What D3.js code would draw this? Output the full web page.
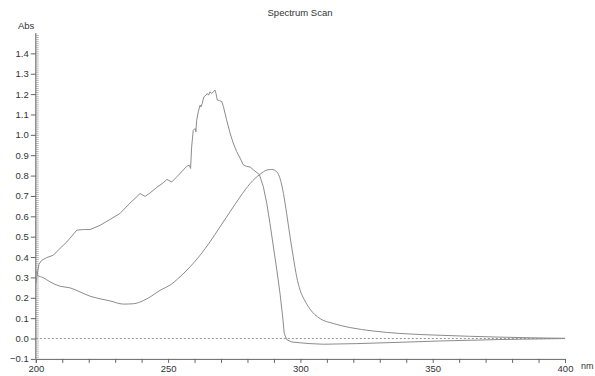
<!DOCTYPE html>
<html>
<head>
<meta charset="utf-8">
<script src="https://cdn.jsdelivr.net/npm/d3@7"></script>
<style>
  body { margin: 0; background: #fff; }
  text { font-family: "Liberation Sans", Arial, sans-serif; fill: #333; }
</style>
</head>
<body>
<script>
// scan 1 (jagged curve)
var scan1Nm = [200.0, 200.7, 201.2, 202.2, 204.1, 206.6, 208.5, 211.7, 215.5, 218.0, 220.5, 224.3, 228.0, 231.8,
    235.6, 237.5, 239.4, 241.3, 243.2, 245.7, 248.2, 249.5, 251.4, 253.3, 255.7, 257.0, 258.0, 258.5,
    258.9, 259.5, 260.2, 260.5, 260.8, 261.4, 262.1, 262.4, 262.9, 263.5, 264.3, 264.8, 265.3, 265.8,
    266.5, 267.1, 267.7, 268.1, 268.6, 269.4, 270.3, 270.9, 272.1, 273.4, 274.6, 275.9, 277.2, 278.4,
    279.7, 281.0, 282.2, 284.5, 286.0, 287.3, 288.5, 289.8, 291.1, 292.3, 293.3, 293.9, 294.8, 296.7,
    299.9, 303.6, 308.7, 321.3, 333.9, 352.8, 375.0, 400.0];
var scan1Abs = [0.27, 0.33, 0.365, 0.384, 0.397, 0.409, 0.434, 0.474, 0.532, 0.535, 0.535, 0.556, 0.584, 0.614,
    0.665, 0.688, 0.712, 0.698, 0.715, 0.742, 0.765, 0.781, 0.769, 0.794, 0.827, 0.845, 0.851, 0.835,
    0.941, 1.022, 1.031, 1.015, 1.072, 1.113, 1.146, 1.137, 1.154, 1.186, 1.195, 1.203, 1.195, 1.211,
    1.203, 1.211, 1.220, 1.203, 1.171, 1.168, 1.163, 1.139, 1.074, 1.009, 0.960, 0.918, 0.886, 0.853,
    0.845, 0.842, 0.829, 0.805, 0.745, 0.663, 0.565, 0.450, 0.336, 0.221, 0.106, 0.025, -0.005, -0.017,
    -0.021, -0.025, -0.028, -0.025, -0.020, -0.012, -0.005, 0.0];

// scan 2 (smooth curve)
var scan2Nm = [200.0, 200.6, 202.8, 205.4, 209.1, 212.9, 216.7, 220.5, 224.3, 228.0, 233.1, 237.0, 240.6, 243.2,
    247.0, 250.7, 254.5, 258.3, 262.1, 265.8, 269.6, 273.4, 277.2, 281.0, 284.8, 287.3, 289.2, 291.1,
    292.3, 293.6, 294.8, 296.1, 297.3, 298.6, 299.9, 301.5, 303.6, 307.4, 312.4, 318.7, 327.5, 337.6,
    352.8, 375.0, 400.0];
var scan2Abs = [0.335, 0.311, 0.299, 0.278, 0.257, 0.249, 0.229, 0.208, 0.195, 0.185, 0.169, 0.171, 0.186, 0.204,
    0.237, 0.262, 0.303, 0.352, 0.409, 0.474, 0.548, 0.622, 0.695, 0.761, 0.807, 0.827, 0.830, 0.818,
    0.786, 0.712, 0.614, 0.499, 0.401, 0.303, 0.237, 0.19, 0.145, 0.098, 0.074, 0.054, 0.037, 0.025,
    0.016, 0.007, 0.001];

var yTicks = [-0.1, 0.0, 0.1, 0.2, 0.3, 0.4, 0.5, 0.6, 0.7, 0.8, 0.9, 1.0, 1.1, 1.2, 1.3, 1.4];
var xTicks = [200, 250, 300, 350, 400];

var width = 595, height = 376;
var x = d3.scaleLinear().domain([200, 400]).range([35.8, 565]);
var y = d3.scaleLinear().domain([-0.1, 1.5]).range([358.9, 33]);

var svg = d3.select("body")
    .append("svg")
    .attr("width", width)
    .attr("height", height);

svg.append("text")
    .text("Spectrum Scan")
    .attr("x", 300)
    .attr("y", 16)
    .attr("text-anchor", "middle")
    .attr("font-size", 9.5);

svg.append("text")
    .text("Abs")
    .attr("x", 18)
    .attr("y", 29)
    .attr("font-size", 9.5);

svg.append("text")
    .text("nm")
    .attr("x", 581)
    .attr("y", 369)
    .attr("font-size", 9);

// zero line
svg.append("line")
    .attr("x1", x(200))
    .attr("x2", x(400))
    .attr("y1", y(0))
    .attr("y2", y(0))
    .attr("stroke", "#777")
    .attr("stroke-width", 0.8)
    .attr("stroke-dasharray", "2,2");

// y axis: major ticks to the left, minor ticks to the right
var yAxis = svg.append("g")
    .attr("transform", "translate(" + x(200) + ",0)")
    .call(d3.axisLeft(y).tickValues(yTicks).tickSize(5).tickPadding(2).tickFormat(d3.format(".1f")));
yAxis.select(".domain").remove();
yAxis.selectAll("text").attr("font-size", 9.5).style("font-family", "Liberation Sans, Arial, sans-serif").attr("fill", "#333");
yAxis.selectAll("line").attr("stroke", "#666");

var yMinor = svg.append("g")
    .attr("transform", "translate(" + x(200) + ",0)")
    .call(d3.axisRight(y).tickValues(d3.range(-10, 150).map(function (d) { return d / 100; })).tickSize(3).tickFormat(""));
yMinor.select(".domain").remove();
yMinor.selectAll("line").attr("stroke", "#888").attr("stroke-width", 0.6);

svg.append("line")
    .attr("x1", x(200)).attr("x2", x(200))
    .attr("y1", y(-0.1)).attr("y2", y(1.5))
    .attr("stroke", "#666");

// x axis
var xAxis = svg.append("g")
    .attr("transform", "translate(0," + y(-0.1) + ")")
    .call(d3.axisBottom(x).tickValues(d3.range(200, 401, 10)).tickSize(4).tickPadding(2)
        .tickFormat(function (d) { return xTicks.indexOf(d) >= 0 ? d : ""; }));
xAxis.select(".domain").attr("stroke", "#666");
xAxis.selectAll("line").attr("stroke", "#666");
xAxis.selectAll("text").attr("font-size", 9.5).style("font-family", "Liberation Sans, Arial, sans-serif").attr("fill", "#333");

var line = d3.line()
    .x(function (d) { return x(d[0]); })
    .y(function (d) { return y(d[1]); });

svg.append("path")
    .datum(d3.zip(scan1Nm, scan1Abs))
    .attr("d", line)
    .attr("fill", "none")
    .attr("stroke", "#8c8c8c")
    .attr("stroke-width", 1);

svg.append("path")
    .datum(d3.zip(scan2Nm, scan2Abs))
    .attr("d", line.curve(d3.curveMonotoneX))
    .attr("fill", "none")
    .attr("stroke", "#8c8c8c")
    .attr("stroke-width", 1);
</script>
</body>
</html>
